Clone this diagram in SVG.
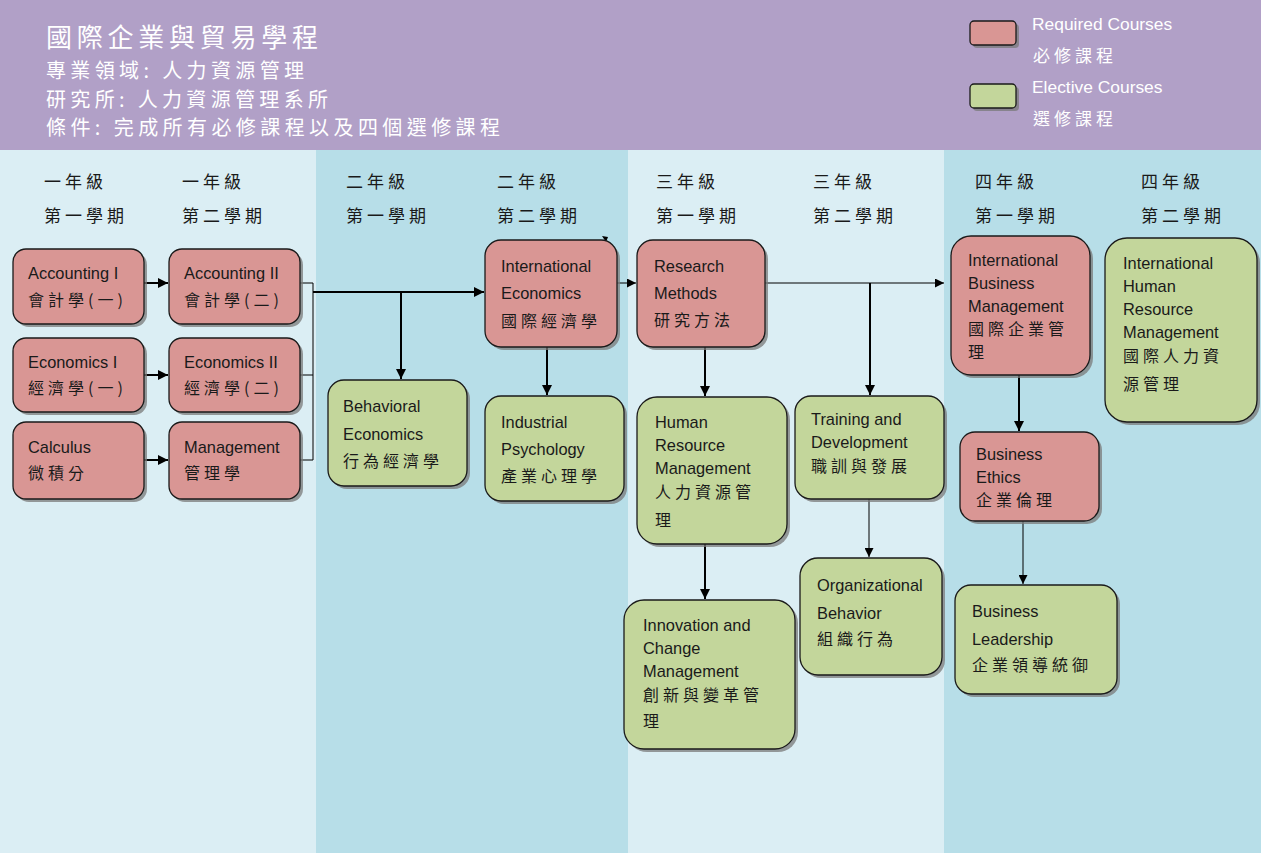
<svg xmlns="http://www.w3.org/2000/svg" width="1261" height="853" viewBox="0 0 1261 853">
<style>
.req{fill:#D99694;stroke:#1a1a1a;stroke-width:1.3}
.ele{fill:#C3D69B;stroke:#1a1a1a;stroke-width:1.3}
.sh{fill:#7a7a7a;opacity:0.75}
.en{font-family:"Liberation Sans",Arial,sans-serif;font-size:16.4px;fill:#1a1a1a}
.zh{font-family:"Noto Sans CJK TC","Noto Sans CJK SC",sans-serif;font-size:16px;fill:#1a1a1a;letter-spacing:4px}
.sem{font-family:"Noto Sans CJK TC","Noto Sans CJK SC",sans-serif;font-size:17px;fill:#1a1a1a;letter-spacing:4px}
.hd{font-family:"Noto Sans CJK TC","Noto Sans CJK SC",sans-serif;fill:#ffffff}
.lg{font-family:"Liberation Sans",Arial,sans-serif;font-size:17.4px;fill:#ffffff}
.c{fill:none;stroke:#000;stroke-width:2}
.t{fill:none;stroke:#000;stroke-width:1}
</style>
<defs>
<marker id="ar" viewBox="0 0 10 10" refX="10" refY="5" markerWidth="5" markerHeight="5" orient="auto" markerUnits="strokeWidth">
<path d="M0,0 L10,5 L0,10 z" fill="#000"/>
</marker>
<marker id="ar2" viewBox="0 0 10 10" refX="10" refY="5" markerWidth="9" markerHeight="9" orient="auto" markerUnits="strokeWidth">
<path d="M0,0 L10,5 L0,10 z" fill="#000"/>
</marker>
</defs>
<!-- background bands -->
<rect x="0" y="150" width="316" height="703" fill="#DBEEF4"/>
<rect x="316" y="150" width="312" height="703" fill="#B7DEE8"/>
<rect x="628" y="150" width="316" height="703" fill="#DBEEF4"/>
<rect x="944" y="150" width="317" height="703" fill="#B7DEE8"/>
<!-- header -->
<rect x="0" y="0" width="1261" height="150" fill="#B1A0C7"/>
<g id="header">
<text class="hd" x="46" y="47" font-size="26" textLength="272" lengthAdjust="spacing">國際企業與貿易學程</text>
<text class="hd" x="46" y="78" font-size="20" textLength="258" lengthAdjust="spacing">專業領域: 人力資源管理</text>
<text class="hd" x="46" y="107" font-size="20" textLength="282" lengthAdjust="spacing">研究所: 人力資源管理系所</text>
<text class="hd" x="46" y="135" font-size="20" textLength="454" lengthAdjust="spacing">條件: 完成所有必修課程以及四個選修課程</text>
</g>
<g id="legend">
<rect x="973" y="24" width="46" height="24" rx="4" class="sh"/>
<rect x="970" y="21" width="46" height="24" rx="4" class="req"/>
<text class="lg" x="1032" y="30">Required Courses</text>
<text class="hd" x="1033" y="62" font-size="17" letter-spacing="4">必修課程</text>
<rect x="973" y="87" width="46" height="24" rx="4" class="sh"/>
<rect x="970" y="84" width="46" height="24" rx="4" class="ele"/>
<text class="lg" x="1032" y="93">Elective Courses</text>
<text class="hd" x="1033" y="125" font-size="17" letter-spacing="4">選修課程</text>
</g>
<g id="semesters">
<text class="sem" x="44" y="188">一年級</text><text class="sem" x="44" y="222">第一學期</text>
<text class="sem" x="182" y="188">一年級</text><text class="sem" x="182" y="222">第二學期</text>
<text class="sem" x="346" y="188">二年級</text><text class="sem" x="346" y="222">第一學期</text>
<text class="sem" x="497" y="188">二年級</text><text class="sem" x="497" y="222">第二學期</text>
<text class="sem" x="656" y="188">三年級</text><text class="sem" x="656" y="222">第一學期</text>
<text class="sem" x="813" y="188">三年級</text><text class="sem" x="813" y="222">第二學期</text>
<text class="sem" x="975" y="188">四年級</text><text class="sem" x="975" y="222">第一學期</text>
<text class="sem" x="1141" y="188">四年級</text><text class="sem" x="1141" y="222">第二學期</text>
</g>
<!-- connectors -->
<g id="connectors">
<line class="c" x1="144" y1="283" x2="168" y2="283" marker-end="url(#ar)"/>
<line class="c" x1="144" y1="375" x2="168" y2="375" marker-end="url(#ar)"/>
<line class="c" x1="144" y1="460" x2="168" y2="460" marker-end="url(#ar)"/>
<path class="t" d="M300,283 H313 V460 H300 M300,375 H313"/>
<line class="c" x1="313" y1="292" x2="484" y2="292" marker-end="url(#ar)"/>
<line class="c" x1="401" y1="292" x2="401" y2="379" marker-end="url(#ar)"/>
<line class="c" x1="547" y1="347" x2="547" y2="395" marker-end="url(#ar)"/>
<line class="t" x1="617" y1="283" x2="636" y2="283" marker-end="url(#ar2)"/>
<line class="t" x1="765" y1="283" x2="944" y2="283" marker-end="url(#ar2)"/>
<line class="c" x1="870" y1="283" x2="870" y2="395" marker-end="url(#ar)"/>
<line class="c" x1="705" y1="347" x2="705" y2="396" marker-end="url(#ar)"/>
<line class="c" x1="705" y1="544" x2="705" y2="599" marker-end="url(#ar)"/>
<line class="t" x1="869" y1="499" x2="869" y2="557" marker-end="url(#ar2)"/>
<line class="c" x1="1019" y1="375" x2="1019" y2="431" marker-end="url(#ar)"/>
<line class="t" x1="1023" y1="521" x2="1023" y2="584" marker-end="url(#ar2)"/>
<path d="M602,236 L608,237 L606,242 z" fill="#000"/>
</g>
<!-- nodes -->
<g id="accounting1">
<rect x="16" y="252" width="131" height="75" rx="13" class="sh"/>
<rect x="13" y="249" width="131" height="75" rx="13" class="req"/>
<text class="en" x="28" y="279">Accounting I</text>
<text class="zh" x="28" y="306">會計學(一)</text>
</g>
<g id="accounting2">
<rect x="172" y="252" width="131" height="75" rx="13" class="sh"/>
<rect x="169" y="249" width="131" height="75" rx="13" class="req"/>
<text class="en" x="184" y="279">Accounting II</text>
<text class="zh" x="184" y="306">會計學(二)</text>
</g>
<g id="economics1">
<rect x="16" y="341" width="131" height="74" rx="13" class="sh"/>
<rect x="13" y="338" width="131" height="74" rx="13" class="req"/>
<text class="en" x="28" y="368">Economics I</text>
<text class="zh" x="28" y="394">經濟學(一)</text>
</g>
<g id="economics2">
<rect x="172" y="341" width="131" height="74" rx="13" class="sh"/>
<rect x="169" y="338" width="131" height="74" rx="13" class="req"/>
<text class="en" x="184" y="368">Economics II</text>
<text class="zh" x="184" y="394">經濟學(二)</text>
</g>
<g id="calculus">
<rect x="16" y="425" width="131" height="77" rx="13" class="sh"/>
<rect x="13" y="422" width="131" height="77" rx="13" class="req"/>
<text class="en" x="28" y="453">Calculus</text>
<text class="zh" x="28" y="479">微積分</text>
</g>
<g id="management">
<rect x="172" y="425" width="131" height="77" rx="13" class="sh"/>
<rect x="169" y="422" width="131" height="77" rx="13" class="req"/>
<text class="en" x="184" y="453">Management</text>
<text class="zh" x="184" y="479">管理學</text>
</g>
<g id="behavioral-economics">
<rect x="331" y="383" width="139" height="106" rx="16" class="sh"/>
<rect x="328" y="380" width="139" height="106" rx="16" class="ele"/>
<text class="en" x="343" y="412">Behavioral</text>
<text class="en" x="343" y="440">Economics</text>
<text class="zh" x="343" y="467">行為經濟學</text>
</g>
<g id="international-economics">
<rect x="488" y="243" width="132" height="107" rx="16" class="sh"/>
<rect x="485" y="240" width="132" height="107" rx="16" class="req"/>
<text class="en" x="501" y="272">International</text>
<text class="en" x="501" y="299">Economics</text>
<text class="zh" x="501" y="327">國際經濟學</text>
</g>
<g id="industrial-psychology">
<rect x="488" y="399" width="139" height="105" rx="16" class="sh"/>
<rect x="485" y="396" width="139" height="105" rx="16" class="ele"/>
<text class="en" x="501" y="428">Industrial</text>
<text class="en" x="501" y="455">Psychology</text>
<text class="zh" x="501" y="482">產業心理學</text>
</g>
<g id="research-methods">
<rect x="640" y="243" width="128" height="107" rx="16" class="sh"/>
<rect x="637" y="240" width="128" height="107" rx="16" class="req"/>
<text class="en" x="654" y="272">Research</text>
<text class="en" x="654" y="299">Methods</text>
<text class="zh" x="654" y="326">研究方法</text>
</g>
<g id="hrm">
<rect x="640" y="400" width="150" height="147" rx="20" class="sh"/>
<rect x="637" y="397" width="150" height="147" rx="20" class="ele"/>
<text class="en" x="655" y="428">Human</text>
<text class="en" x="655" y="451">Resource</text>
<text class="en" x="655" y="474">Management</text>
<text class="zh" x="655" y="498">人力資源管</text>
<text class="zh" x="655" y="526">理</text>
</g>
<g id="training-development">
<rect x="798" y="399" width="149" height="103" rx="16" class="sh"/>
<rect x="795" y="396" width="149" height="103" rx="16" class="ele"/>
<text class="en" x="811" y="425">Training and</text>
<text class="en" x="811" y="448">Development</text>
<text class="zh" x="811" y="472">職訓與發展</text>
</g>
<g id="innovation-change">
<rect x="627" y="603" width="171" height="149" rx="20" class="sh"/>
<rect x="624" y="600" width="171" height="149" rx="20" class="ele"/>
<text class="en" x="643" y="631">Innovation and</text>
<text class="en" x="643" y="654">Change</text>
<text class="en" x="643" y="677">Management</text>
<text class="zh" x="643" y="701">創新與變革管</text>
<text class="zh" x="643" y="727">理</text>
</g>
<g id="organizational-behavior">
<rect x="803" y="561" width="142" height="117" rx="18" class="sh"/>
<rect x="800" y="558" width="142" height="117" rx="18" class="ele"/>
<text class="en" x="817" y="591">Organizational</text>
<text class="en" x="817" y="619">Behavior</text>
<text class="zh" x="817" y="645">組織行為</text>
</g>
<g id="international-business-management">
<rect x="954" y="239" width="139" height="139" rx="20" class="sh"/>
<rect x="951" y="236" width="139" height="139" rx="20" class="req"/>
<text class="en" x="968" y="266">International</text>
<text class="en" x="968" y="289">Business</text>
<text class="en" x="968" y="312">Management</text>
<text class="zh" x="968" y="335">國際企業管</text>
<text class="zh" x="968" y="358">理</text>
</g>
<g id="international-hrm">
<rect x="1108" y="241" width="152" height="184" rx="22" class="sh"/>
<rect x="1105" y="238" width="152" height="184" rx="22" class="ele"/>
<text class="en" x="1123" y="269">International</text>
<text class="en" x="1123" y="292">Human</text>
<text class="en" x="1123" y="315">Resource</text>
<text class="en" x="1123" y="338">Management</text>
<text class="zh" x="1123" y="362">國際人力資</text>
<text class="zh" x="1123" y="390">源管理</text>
</g>
<g id="business-ethics">
<rect x="963" y="435" width="139" height="89" rx="15" class="sh"/>
<rect x="960" y="432" width="139" height="89" rx="15" class="req"/>
<text class="en" x="976" y="460">Business</text>
<text class="en" x="976" y="483">Ethics</text>
<text class="zh" x="976" y="506">企業倫理</text>
</g>
<g id="business-leadership">
<rect x="958" y="588" width="162" height="109" rx="16" class="sh"/>
<rect x="955" y="585" width="162" height="109" rx="16" class="ele"/>
<text class="en" x="972" y="617">Business</text>
<text class="en" x="972" y="645">Leadership</text>
<text class="zh" x="972" y="671">企業領導統御</text>
</g>
</svg>
